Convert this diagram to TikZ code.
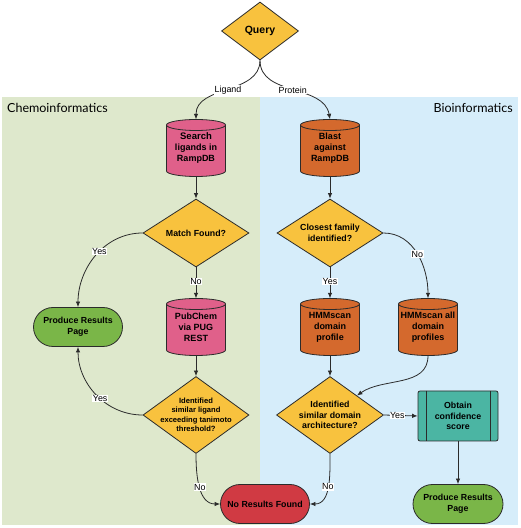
\documentclass[tikz,border=0pt]{standalone}
\usepackage{fontspec}
\setmainfont{Liberation Sans}
\newfontfamily\headfont{Lato}
\usetikzlibrary{shapes.geometric,arrows.meta,calc}
\definecolor{bggreen}{HTML}{DEE8CC}
\definecolor{bgblue}{HTML}{D6EDFA}
\definecolor{cyellow}{HTML}{F8C23E}
\definecolor{cpink}{HTML}{E0608A}
\definecolor{corange}{HTML}{D4692D}
\definecolor{cgreen}{HTML}{7AB648}
\definecolor{cteal}{HTML}{4BB5A3}
\definecolor{cred}{HTML}{D03A43}
\definecolor{cline}{HTML}{2B2B2B}
\tikzset{
  every picture/.style={x=1pt,y=1pt},
  shapeline/.style={draw=cline,line width=0.8pt},
  dia/.style={diamond,shapeline,fill=cyellow,inner sep=0pt,minimum width=106pt,minimum height=68pt},
  dtext/.style={align=center,font=\bfseries\fontsize{8.8}{10.7}\selectfont},
  cyltext/.style={rectangle,minimum width=59pt,minimum height=57pt,inner sep=0pt,align=center,font=\bfseries\fontsize{9}{11}\selectfont},
  stad/.style={rectangle,shapeline,rounded corners=19.5pt,minimum width=89pt,minimum height=39pt,inner sep=0pt,align=center,font=\bfseries\fontsize{8.8}{11}\selectfont},
  arr/.style={-{Latex[length=5.5pt,width=4.5pt]},line width=0.8pt,draw=cline},
  el/.style={fill=white,inner sep=0.6pt,font=\fontsize{8.9}{10}\selectfont},
  head/.style={font=\headfont\fontsize{12.5}{14}\selectfont,inner sep=0pt},
}
\newcommand\cylnode[5]{%
  \filldraw[fill=#4,shapeline] (#2-29.5,#3+23) -- (#2-29.5,#3-23)
    arc[start angle=180,end angle=360,x radius=29.5pt,y radius=5.5pt]
    -- (#2+29.5,#3+23)
    arc[start angle=0,end angle=180,x radius=29.5pt,y radius=5.5pt] -- cycle;
  \draw[shapeline] (#2-29.5,#3+23) arc[start angle=180,end angle=360,x radius=29.5pt,y radius=5.5pt];
  \node[cyltext] (#1) at (#2,#3) {#5};
}
\begin{document}
\begin{tikzpicture}
\useasboundingbox (0,0) rectangle (520,528);
\fill[white] (0,0) rectangle (520,528);
\fill[bggreen] (2,3) rectangle (260,431);
\fill[bgblue] (260,3) rectangle (518,431);
\node[head,anchor=west] (chem) at (7,420) {Chemoinformatics};
\node[head,anchor=east] (bio) at (513,420) {Bioinformatics};

% Query
\node[dia,minimum width=77pt,minimum height=58pt,label={[name=qt,dtext,font=\bfseries\fontsize{10.5}{12}\selectfont]center:Query}] (q) at (260,497) {};

% cylinders
\cylnode{s}{196}{380}{cpink}{\fontsize{9.5}{12}\selectfont Search\\ligands in\\RampDB}
\cylnode{b}{330}{380}{corange}{Blast\\against\\RampDB}
\cylnode{pc}{196}{201}{cpink}{PubChem\\via PUG\\REST}
\cylnode{hd}{330}{201}{corange}{HMMscan\\domain\\profile}
\cylnode{ha}{428}{201}{corange}{HMMscan all\\domain\\profiles}

% diamonds
\node[dia,label={[name=mt,dtext]center:Match Found?}] (m) at (196,295) {};
\node[dia,label={[name=ct,dtext]center:Closest family\\identified?}] (c) at (330,295) {};
\node[dia,minimum height=77pt,label={[name=it,dtext,font=\bfseries\fontsize{7.6}{9.5}\selectfont]center:Identified\\similar ligand\\exceeding tanimoto\\threshold?}] (il) at (196,113) {};
\node[dia,minimum width=107pt,minimum height=77pt,label={[name=dt,dtext]center:Identified\\similar domain\\architecture?}] (id) at (330,113) {};

% terminals
\node[stad,fill=cgreen] (pl) at (78,201) {Produce Results\\Page};
\node[stad,fill=cred] (nr) at (265,24) {No Results Found};
\node[stad,fill=cgreen,minimum width=90pt] (pr) at (458,24) {Produce Results\\Page};

% predefined process
\node[rectangle,shapeline,fill=cteal,rounded corners=2pt,minimum width=80pt,minimum height=50pt,inner sep=0pt,align=center,font=\bfseries\fontsize{8.8}{10.7}\selectfont] (ob) at (458,112) {Obtain\\confidence\\score};
\draw[shapeline] ($(ob.north west)+(8.5,0)$) -- ($(ob.south west)+(8.5,0)$);
\draw[shapeline] ($(ob.north east)+(-8.5,0)$) -- ($(ob.south east)+(-8.5,0)$);

% connectors
\draw[arr] (q.south) to[out=-90,in=90] node[el,pos=0.5] {Ligand} (s.north);
\draw[arr] (q.south) to[out=-90,in=100] node[el,pos=0.5] {Protein} (b.north);
\draw[arr] (s.south) -- (m.north);
\draw[arr] (b.south) -- (c.north);
\draw[arr] (m.west) to[out=180,in=90] node[el,pos=0.45] {Yes} (pl.north);
\draw[arr] (m.south) -- node[el,pos=0.45] {No} (pc.north);
\draw[arr] (pc.south) -- (il.north);
\draw[arr] (il.west) to[out=180,in=-90] node[el,pos=0.45] {Yes} (pl.south);
\draw[arr] (il.south) to[out=-90,in=180] node[el,pos=0.5] {No} (nr.west);
\draw[arr] (c.south) -- node[el,pos=0.45] {Yes} (hd.north);
\draw[arr] (c.east) to[out=0,in=90] node[el,pos=0.5] {No} (ha.north);
\draw[arr] (hd.south) -- (id.north);
\draw[arr] (ha.south) to[out=-90,in=35] (id.north east);
\draw[arr] (id.south) to[out=-90,in=0] node[el,pos=0.5] {No} (nr.east);
\draw[arr] (id.east) -- node[el,pos=0.4] {Yes} (ob.west);
\draw[arr] (ob.south) -- (pr.north);
\end{tikzpicture}
\end{document}
